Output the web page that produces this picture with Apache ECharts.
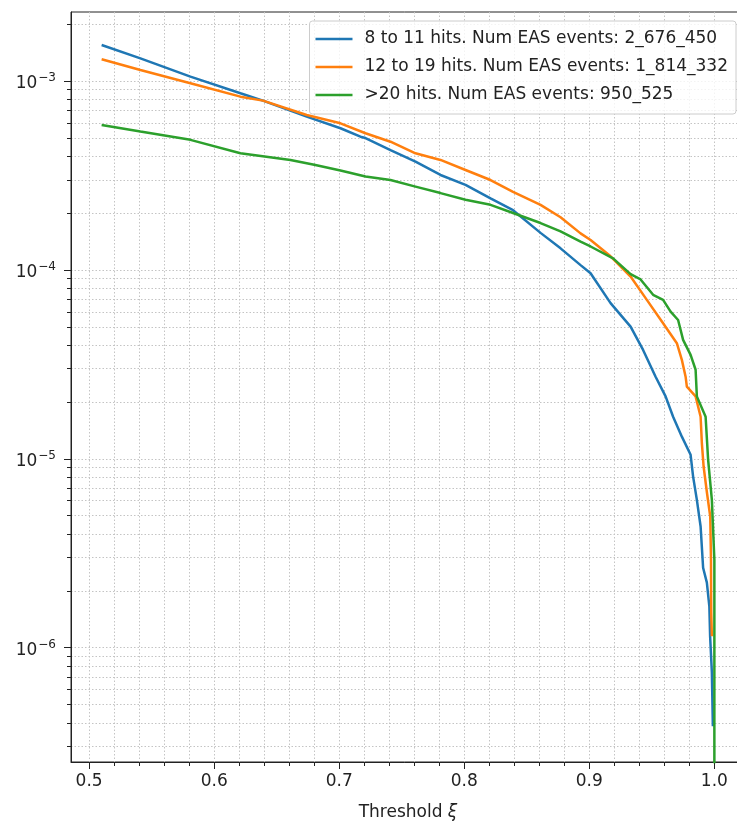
<!DOCTYPE html>
<html>
<head>
<meta charset="utf-8">
<style>
  html, body { margin: 0; padding: 0; background: #fff; }
  #chart { width: 737px; height: 825px; }
</style>
</head>
<body>
<div id="chart"></div>
<script src="https://cdn.jsdelivr.net/npm/echarts@6/dist/echarts.min.js"></script>
<script>
// series names
var names = [
  '8 to 11 hits. Num EAS events: 2_676_450',
  '12 to 19 hits. Num EAS events: 1_814_332',
  '>20 hits. Num EAS events: 950_525'
];
var colors = ['#1f77b4', '#ff7f0e', '#2ca02c'];

// threshold values (x) and fractions (y)
var blueX = [0.51, 0.541, 0.581, 0.621, 0.639, 0.674, 0.701, 0.717, 0.721, 0.741, 0.761, 0.781, 0.801, 0.821, 0.839, 0.861, 0.877, 0.893,
  0.901, 0.917, 0.933, 0.943, 0.953, 0.961, 0.967, 0.974, 0.981, 0.983, 0.986, 0.989, 0.991, 0.994, 0.996, 0.9966, 0.998, 0.9988];
var blueY = [1.55e-3, 1.318e-3, 1.054e-3, 8.61e-4, 7.87e-4, 6.48e-4, 5.62e-4, 5.07e-4, 4.99e-4, 4.31e-4, 3.74e-4, 3.18e-4, 2.82e-4, 2.39e-4, 2.07e-4, 1.57e-4, 1.30e-4, 1.06e-4,
  9.6e-5, 6.67e-5, 5.01e-5, 3.77e-5, 2.72e-5, 2.14e-5, 1.67e-5, 1.31e-5, 1.05e-5, 8.05e-6, 6.06e-6, 4.38e-6, 2.65e-6, 2.21e-6, 1.65e-6, 1.15e-6, 7.38e-7, 3.84e-7];

var orangeX = [0.51, 0.541, 0.581, 0.621, 0.639, 0.674, 0.701, 0.721, 0.741, 0.761, 0.781, 0.801, 0.821, 0.839, 0.861, 0.877, 0.893, 0.901,
  0.917, 0.933, 0.946, 0.959, 0.970, 0.974, 0.977, 0.978, 0.985, 0.989, 0.990, 0.9914, 0.9941, 0.9967, 0.9973, 0.9974, 0.9975, 0.998];
var orangeY = [1.303e-3, 1.143e-3, 9.72e-4, 8.26e-4, 7.87e-4, 6.61e-4, 5.97e-4, 5.29e-4, 4.77e-4, 4.14e-4, 3.82e-4, 3.38e-4, 2.99e-4, 2.59e-4, 2.21e-4, 1.90e-4, 1.56e-4, 1.44e-4,
  1.18e-4, 9.22e-5, 6.94e-5, 5.22e-5, 4.09e-5, 3.34e-5, 2.72e-5, 2.41e-5, 2.14e-5, 1.67e-5, 1.21e-5, 9.1e-6, 6.59e-6, 4.95e-6, 2.92e-6, 1.87e-6, 1.53e-6, 1.15e-6];

var greenX = [0.51, 0.541, 0.581, 0.621, 0.661, 0.680, 0.701, 0.721, 0.741, 0.761, 0.781, 0.801, 0.821, 0.839, 0.861, 0.877, 0.893, 0.901,
  0.919, 0.933, 0.941, 0.951, 0.959, 0.965, 0.971, 0.975, 0.981, 0.985, 0.986, 0.993, 0.995, 0.998, 1.0, 1.0];
var greenY = [5.85e-4, 5.40e-4, 4.88e-4, 4.14e-4, 3.82e-4, 3.60e-4, 3.36e-4, 3.12e-4, 2.99e-4, 2.76e-4, 2.55e-4, 2.35e-4, 2.21e-4, 2.00e-4, 1.77e-4, 1.60e-4, 1.41e-4, 1.33e-4,
  1.15e-4, 9.5e-5, 8.9e-5, 7.38e-5, 6.94e-5, 6.01e-5, 5.43e-5, 4.26e-5, 3.55e-5, 2.96e-5, 2.14e-5, 1.67e-5, 9.9e-6, 6.06e-6, 2.92e-6, 1e-8];

// ticks
var xMajor = [0.5, 0.6, 0.7, 0.8, 0.9, 1.0];
var xMinor = [];
for (var i = 24; i <= 51; i++) { if (i % 5 !== 0) xMinor.push(+(i * 0.02).toFixed(2)); }
var yMajor = [1e-6, 1e-5, 1e-4, 1e-3];
var yMinor = [];
for (var e = -7; e <= -3; e++) { for (var k = 2; k <= 9; k++) yMinor.push(k * Math.pow(10, e)); }

var xMin = 0.4855, xMax = 1.0245;
var yMin = 2.483e-7, yMax = 2.318e-3;

function pairs(xs, ys) {
  return xs.map(function (x, i) { return [x, ys[i]]; });
}

var font = 'DejaVu Sans';
var gridLine = { show: true, lineStyle: { color: '#c4c4c4', width: 1, type: [1.5, 2] } };

var chart = echarts.init(document.getElementById('chart'));
chart.setOption({
  animation: false,
  textStyle: { fontFamily: font },
  grid: { left: 71, top: 12, right: -8, bottom: 63, show: true, borderColor: '#222', borderWidth: 1, outerBoundsMode: 'none' },
  legend: {
    orient: 'vertical',
    right: 1,
    top: 21,
    padding: [8, 8, 9, 6],
    icon: 'rect',
    itemWidth: 37,
    itemHeight: 2.5,
    itemGap: 8,
    backgroundColor: 'rgba(255,255,255,0.8)',
    borderColor: '#cccccc',
    borderWidth: 1,
    borderRadius: 3,
    textStyle: { fontFamily: font, fontSize: 17, color: '#222', lineHeight: 20, padding: [0, 0, 0, 7] },
    data: names
  },
  xAxis: [{
    type: 'value', min: xMin, max: xMax,
    name: 'Threshold {i|ξ}', nameLocation: 'middle', nameGap: 42,
    nameTextStyle: { fontFamily: font, fontSize: 17, color: '#222', rich: { i: { fontFamily: font, fontSize: 17, fontStyle: 'italic', color: '#222' } } },
    axisLine: { show: true, lineStyle: { color: '#222', width: 1 } },
    axisTick: { show: true, length: 7, customValues: xMajor, lineStyle: { color: '#222', width: 1 } },
    axisLabel: { customValues: xMajor, margin: 11, fontSize: 17, color: '#222', fontFamily: font, formatter: function (v) { return v.toFixed(1); } },
    splitLine: gridLine
  }, {
    type: 'value', min: xMin, max: xMax, position: 'bottom',
    axisLine: { show: false },
    axisTick: { show: true, length: 4, customValues: xMinor, lineStyle: { color: '#222', width: 1 } },
    axisLabel: { show: false },
    splitLine: gridLine
  }],
  yAxis: [{
    type: 'log', logBase: 10, min: yMin, max: yMax,
    axisLine: { show: true, lineStyle: { color: '#222', width: 1 } },
    axisTick: { show: true, length: 7, customValues: yMajor, lineStyle: { color: '#222', width: 1 } },
    axisLabel: {
      customValues: yMajor, margin: 15, color: '#222', fontFamily: font,
      formatter: function (v) {
        var p = Math.round(Math.log(v) / Math.LN10);
        return '{b|10}{s|\u2212' + Math.abs(p) + '}';
      },
      rich: {
        b: { fontSize: 17, fontFamily: font, color: '#222', lineHeight: 18, padding: [6, 0, 0, 0] },
        s: { fontSize: 12, fontFamily: font, color: '#222', verticalAlign: 'top', lineHeight: 12, padding: [0, 0, 0, 1] }
      }
    },
    splitLine: gridLine
  }, {
    type: 'log', logBase: 10, min: yMin, max: yMax, position: 'left',
    axisLine: { show: false },
    axisTick: { show: true, length: 4, customValues: yMinor, lineStyle: { color: '#222', width: 1 } },
    axisLabel: { show: false },
    splitLine: gridLine
  }],
  series: [
    { name: names[0], type: 'line', data: pairs(blueX, blueY), symbol: 'none', lineStyle: { color: colors[0], width: 2.5 }, itemStyle: { color: colors[0] } },
    { name: names[1], type: 'line', data: pairs(orangeX, orangeY), symbol: 'none', lineStyle: { color: colors[1], width: 2.5 }, itemStyle: { color: colors[1] } },
    { name: names[2], type: 'line', data: pairs(greenX, greenY), symbol: 'none', lineStyle: { color: colors[2], width: 2.5 }, itemStyle: { color: colors[2] } }
  ]
});
</script>
</body>
</html>
